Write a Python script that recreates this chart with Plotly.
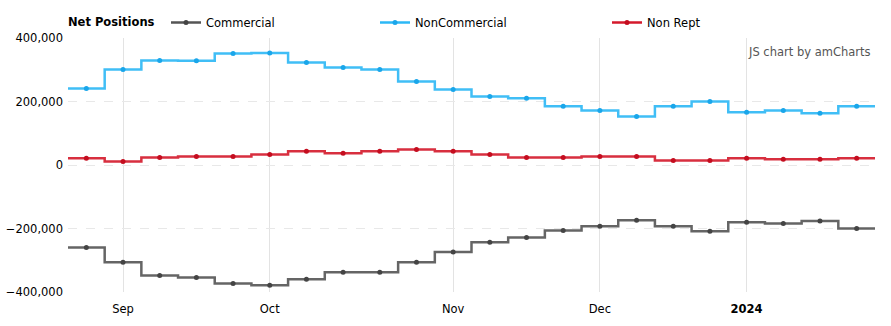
import pandas as pd
import plotly.graph_objects as go

# weekly report dates (Tuesdays)
dates = pd.date_range("2023-08-29", "2024-01-23", freq="7D")

commercial = [-260000, -306000, -348000, -354000, -373000, -379000, -360000, -338000,
              -338000, -306000, -274000, -243000, -228000, -206000, -193000, -174000,
              -193000, -209000, -180000, -184000, -176000, -200000]
noncommercial = [241000, 301000, 329000, 328000, 351000, 353000, 323000, 307000,
                 301000, 263000, 238000, 216000, 210000, 185000, 172000, 153000,
                 185000, 200000, 166000, 172000, 163000, 185000]
nonrept = [21000, 11000, 24000, 27000, 27000, 33000, 43000, 37000, 43000, 49000, 43000,
           33000, 24000, 24000, 27000, 27000, 14500, 14500, 21000, 18000, 18000, 21000]

tick_idx = [1, 5, 10, 14, 18]
tick_text = ["Sep", "Oct", "Nov", "Dec", "<b>2024</b>"]
y_ticks = [-400000, -200000, 0, 200000, 400000]

series = [
    ("Commercial", commercial, "#555555", "#444444", "legend"),
    ("NonCommercial", noncommercial, "#2cb8f6", "#1aa6ea", "legend2"),
    ("Non Rept", nonrept, "#d4192b", "#c40d1f", "legend3"),
]

half = pd.Timedelta(hours=84)
edges = list(dates - half) + [dates[-1] + half]

FONT = "DejaVu Sans"
FS = 11.5
W, H = 891, 326
fig = go.Figure()
for name, vals, col, mcol, lg in series:
    ys = list(vals) + [vals[-1]]
    fig.add_trace(go.Scatter(x=edges, y=ys, mode="lines", line=dict(color=col, width=2.5, shape="hv"),
                             opacity=0.9, showlegend=False, hoverinfo="skip", legendgroup=name))
    fig.add_trace(go.Scatter(x=dates, y=vals, mode="markers", marker=dict(color=mcol, size=5),
                             showlegend=False, name=name, legendgroup=name))
    fig.add_trace(go.Scatter(x=[None], y=[None], mode="lines+markers", name=name, legendgroup=name,
                             legend=lg, line=dict(color=col, width=2.5), marker=dict(color=mcol, size=5)))

def leg(xpx):
    return dict(orientation="h", xref="container", yref="container", x=xpx / W, xanchor="left",
                y=1 - 8 / H, yanchor="top", font=dict(family=FONT, size=FS, color="#000"),
                bgcolor="rgba(0,0,0,0)")

fig.update_layout(
    width=W, height=H,
    margin=dict(l=67.5, r=16, t=38.3, b=33.7, autoexpand=False),
    paper_bgcolor="white", plot_bgcolor="white",
    font=dict(family=FONT, size=FS, color="#000"),
    showlegend=True,
    legend=leg(166),
    legend2=leg(375),
    legend3=leg(607),
    xaxis=dict(type="date", range=[edges[0], edges[-1]], tickvals=[dates[i] for i in tick_idx],
               ticktext=tick_text, showgrid=True, gridcolor="#e3e3e3", gridwidth=1,
               zeroline=False, showline=False, ticks="", ticklabelstandoff=8, automargin=False,
               tickfont=dict(family=FONT, size=FS, color="#000")),
    yaxis=dict(range=[-400000, 400000], tickvals=y_ticks, tickformat=",", showgrid=True,
               gridcolor="#e8e8e8", griddash="dash", gridwidth=1, zeroline=False, showline=False,
               ticks="", ticklabelstandoff=4, automargin=False,
               tickfont=dict(family=FONT, size=FS, color="#000")),
    annotations=[
        dict(text="<b>Net Positions</b>", xref="paper", yref="paper", x=-0.0019, y=1.064,
             xanchor="left", yanchor="middle", showarrow=False,
             font=dict(family=FONT, size=FS, color="#000")),
        dict(text="JS chart by amCharts", xref="paper", yref="paper", x=0.997, y=0.946,
             xanchor="right", yanchor="middle", showarrow=False,
             font=dict(family=FONT, size=FS, color="#555")),
    ],
)

fig.write_html("out.html")
